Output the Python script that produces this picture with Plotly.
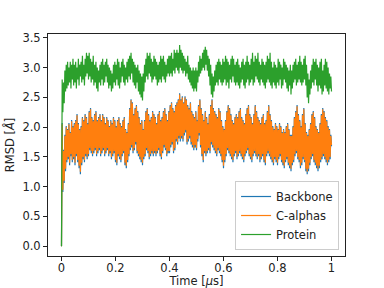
import numpy as np
import plotly.graph_objects as go

step_us = 0.0025

protein = [
    0.00, 2.80, 2.25, 2.75, 2.40, 2.95, 2.60, 3.05, 2.65, 3.10, 2.70, 3.00, 2.75, 3.10, 2.65, 3.05, 2.80, 3.15, 2.70, 3.05,
    2.75, 3.10, 2.65, 3.00, 2.80, 3.15, 2.70, 3.05, 2.85, 3.10, 2.75, 3.20, 2.80, 3.05, 2.70, 3.15, 2.85, 3.25, 2.90, 3.20,
    2.80, 3.25, 2.85, 3.15, 2.75, 3.10, 2.80, 3.20, 2.70, 3.05, 2.75, 3.10, 2.65, 3.00, 2.60, 2.95, 2.75, 3.05, 2.70, 3.10,
    2.80, 3.15, 2.70, 3.05, 2.75, 3.10, 2.85, 3.15, 2.75, 3.05, 2.65, 3.00, 2.70, 2.95, 2.60, 2.90, 2.65, 3.05, 2.75, 3.10,
    2.70, 3.05, 2.80, 3.15, 2.70, 3.10, 2.65, 3.00, 2.75, 3.10, 2.85, 3.15, 2.75, 3.05, 2.70, 3.00, 2.80, 3.10, 2.75, 3.15,
    2.85, 3.20, 2.80, 3.25, 2.90, 3.15, 2.75, 3.10, 2.70, 3.05, 2.65, 3.00, 2.75, 3.05, 2.60, 2.95, 2.55, 2.90, 2.50, 2.85,
    2.45, 2.90, 2.60, 3.05, 2.75, 3.15, 2.85, 3.25, 2.80, 3.20, 2.90, 3.25, 2.85, 3.15, 2.75, 3.10, 2.80, 3.20, 2.85, 3.15,
    2.80, 3.10, 2.70, 3.05, 2.75, 3.10, 2.80, 3.20, 2.75, 3.15, 2.85, 3.20, 2.80, 3.10, 2.75, 3.05, 2.85, 3.15, 2.90, 3.20,
    2.85, 3.20, 2.90, 3.25, 2.85, 3.15, 2.95, 3.30, 2.90, 3.25, 3.00, 3.30, 2.95, 3.25, 2.90, 3.38, 3.00, 3.30, 2.95, 3.25,
    2.90, 3.20, 2.95, 3.15, 2.85, 3.10, 2.90, 3.20, 2.80, 3.05, 2.75, 3.00, 2.70, 2.95, 2.65, 3.00, 2.60, 2.95, 2.65, 3.00,
    2.60, 2.95, 2.75, 3.10, 2.85, 3.20, 2.90, 3.15, 2.95, 3.25, 3.00, 3.30, 2.95, 3.35, 3.05, 3.30, 2.95, 3.20, 2.85, 3.15,
    2.70, 3.05, 2.55, 2.90, 2.50, 2.85, 2.60, 2.95, 2.70, 3.05, 2.75, 3.10, 2.70, 3.15, 2.80, 3.10, 2.75, 3.05, 2.70, 3.15,
    2.75, 3.10, 2.80, 3.20, 2.70, 3.15, 2.75, 3.10, 2.65, 3.05, 2.80, 3.15, 2.75, 3.20, 2.85, 3.15, 2.75, 3.05, 2.70, 3.10,
    2.75, 3.15, 2.70, 3.05, 2.65, 3.00, 2.75, 3.10, 2.80, 3.15, 2.70, 3.05, 2.65, 3.10, 2.75, 3.20, 2.80, 3.10, 2.70, 3.05,
    2.75, 3.15, 2.80, 3.25, 2.70, 3.10, 2.75, 3.20, 2.85, 3.15, 2.80, 3.25, 2.75, 3.10, 2.70, 3.05, 2.80, 3.15, 2.75, 3.10,
    2.70, 3.05, 2.65, 3.10, 2.75, 3.20, 2.80, 3.15, 2.75, 3.25, 2.70, 3.10, 2.65, 3.00, 2.75, 3.10, 2.70, 3.05, 2.65, 3.00,
    2.75, 3.15, 2.70, 3.10, 2.80, 3.05, 2.65, 3.00, 2.70, 3.15, 2.80, 3.10, 2.75, 3.05, 2.65, 3.00, 2.60, 2.95, 2.70, 3.05,
    2.55, 2.95, 2.65, 3.05, 2.75, 3.10, 2.80, 3.15, 2.70, 3.05, 2.75, 3.10, 2.80, 3.20, 2.75, 3.10, 2.70, 3.05, 2.75, 3.15,
    2.80, 3.20, 2.70, 3.05, 2.50, 2.90, 2.40, 2.80, 2.55, 2.95, 2.65, 3.05, 2.75, 3.15, 2.70, 3.10, 2.80, 3.15, 2.70, 3.05,
    2.60, 3.00, 2.70, 3.10, 2.65, 3.15, 2.55, 2.95, 2.60, 3.05, 2.70, 3.15, 2.65, 3.10, 2.60, 3.00, 2.55, 2.90, 2.65, 2.85,
    2.60,
]

c_alphas = [
    0.00, 2.05, 0.95, 1.60, 1.10, 1.85, 1.30, 2.00, 1.45, 1.95, 1.50, 2.05, 1.40, 1.90, 1.55, 2.10, 1.45, 2.00, 1.50, 2.05,
    1.40, 2.10, 1.55, 2.20, 1.45, 2.05, 1.35, 1.95, 1.25, 2.00, 1.40, 2.15, 1.50, 2.10, 1.45, 2.20, 1.55, 2.15, 1.50, 2.05,
    1.55, 2.25, 1.65, 2.30, 1.60, 2.15, 1.55, 2.10, 1.60, 2.20, 1.65, 2.25, 1.55, 2.10, 1.60, 2.15, 1.65, 2.20, 1.55, 2.10,
    1.60, 2.20, 1.65, 2.15, 1.55, 2.05, 1.60, 2.15, 1.65, 2.10, 1.55, 2.00, 1.60, 2.10, 1.50, 2.05, 1.55, 2.15, 1.60, 2.10,
    1.45, 2.00, 1.40, 2.10, 1.55, 2.15, 1.50, 2.05, 1.45, 2.00, 1.55, 2.10, 1.60, 2.15, 1.40, 1.95, 1.35, 1.90, 1.45, 2.05,
    1.55, 2.30, 1.65, 2.45, 1.70, 2.40, 1.60, 2.20, 1.65, 2.30, 1.75, 2.35, 1.60, 2.25, 1.55, 2.15, 1.50, 2.05, 1.45, 2.10,
    1.40, 1.95, 1.50, 2.10, 1.55, 2.25, 1.65, 2.30, 1.60, 2.20, 1.50, 2.10, 1.55, 2.15, 1.60, 2.25, 1.55, 2.20, 1.60, 2.15,
    1.55, 2.05, 1.60, 2.20, 1.65, 2.25, 1.55, 2.10, 1.50, 2.15, 1.60, 2.25, 1.70, 2.30, 1.65, 2.20, 1.55, 2.10, 1.60, 2.25,
    1.60, 2.35, 1.70, 2.40, 1.75, 2.30, 1.60, 2.25, 1.65, 2.35, 1.80, 2.40, 1.75, 2.45, 1.85, 2.55, 1.80, 2.45, 1.85, 2.50,
    1.80, 2.40, 1.90, 2.50, 1.95, 2.45, 1.75, 2.35, 1.80, 2.30, 1.85, 2.40, 1.75, 2.25, 1.70, 2.20, 1.65, 2.15, 1.70, 2.25,
    1.65, 2.10, 1.80, 2.35, 1.90, 2.45, 1.70, 2.30, 1.55, 2.20, 1.45, 2.10, 1.60, 2.25, 1.55, 2.15, 1.60, 2.05, 1.65, 2.20,
    1.60, 2.35, 1.75, 2.45, 1.70, 2.30, 1.65, 2.25, 1.60, 2.20, 1.55, 2.15, 1.65, 2.30, 1.60, 2.25, 1.55, 2.10, 1.45, 2.00,
    1.35, 1.95, 1.45, 2.10, 1.55, 2.25, 1.65, 2.35, 1.60, 2.30, 1.55, 2.20, 1.50, 2.10, 1.45, 2.05, 1.55, 2.15, 1.60, 2.20,
    1.50, 2.15, 1.55, 2.25, 1.60, 2.30, 1.55, 2.15, 1.50, 2.10, 1.45, 2.05, 1.55, 2.20, 1.60, 2.30, 1.65, 2.35, 1.55, 2.20,
    1.50, 2.15, 1.45, 2.05, 1.55, 2.20, 1.60, 2.35, 1.55, 2.25, 1.50, 2.15, 1.55, 2.10, 1.45, 2.05, 1.50, 2.15, 1.55, 2.20,
    1.45, 2.05, 1.40, 2.10, 1.55, 2.25, 1.60, 2.35, 1.55, 2.20, 1.50, 2.10, 1.45, 2.00, 1.40, 1.95, 1.50, 2.05, 1.45, 2.00,
    1.40, 1.95, 1.50, 2.05, 1.55, 2.00, 1.45, 1.90, 1.40, 1.95, 1.35, 1.90, 1.45, 2.00, 1.50, 2.05, 1.40, 1.95, 1.35, 1.85,
    1.30, 1.85, 1.40, 2.00, 1.45, 2.15, 1.55, 2.25, 1.60, 2.35, 1.50, 2.20, 1.45, 2.10, 1.35, 2.00, 1.40, 2.20, 1.50, 2.30,
    1.45, 2.05, 1.30, 1.90, 1.25, 1.85, 1.30, 1.95, 1.40, 2.05, 1.50, 2.20, 1.55, 2.25, 1.45, 2.15, 1.40, 2.00, 1.35, 1.95,
    1.30, 1.90, 1.35, 2.05, 1.45, 2.20, 1.50, 2.30, 1.55, 2.25, 1.50, 2.15, 1.45, 2.10, 1.40, 2.00, 1.45, 1.95, 1.50, 1.85,
    1.70,
]

backbone = [
    0.00, 2.07, 0.91, 1.62, 1.06, 1.87, 1.26, 2.02, 1.41, 1.97, 1.46, 2.07, 1.36, 1.92, 1.51, 2.12, 1.41, 2.02, 1.46, 2.07,
    1.36, 2.12, 1.51, 2.22, 1.41, 2.07, 1.31, 1.97, 1.21, 2.02, 1.36, 2.17, 1.46, 2.12, 1.41, 2.22, 1.51, 2.17, 1.46, 2.07,
    1.51, 2.27, 1.61, 2.32, 1.56, 2.17, 1.51, 2.12, 1.56, 2.22, 1.61, 2.27, 1.51, 2.12, 1.56, 2.17, 1.61, 2.22, 1.51, 2.12,
    1.56, 2.22, 1.61, 2.17, 1.51, 2.07, 1.56, 2.17, 1.61, 2.12, 1.51, 2.02, 1.56, 2.12, 1.46, 2.07, 1.51, 2.17, 1.56, 2.12,
    1.41, 2.02, 1.36, 2.12, 1.51, 2.17, 1.46, 2.07, 1.41, 2.02, 1.51, 2.12, 1.56, 2.17, 1.36, 1.97, 1.31, 1.92, 1.41, 2.07,
    1.51, 2.32, 1.61, 2.47, 1.66, 2.42, 1.56, 2.22, 1.61, 2.32, 1.71, 2.37, 1.56, 2.27, 1.51, 2.17, 1.46, 2.07, 1.41, 2.12,
    1.36, 1.97, 1.46, 2.12, 1.51, 2.27, 1.61, 2.32, 1.56, 2.22, 1.46, 2.12, 1.51, 2.17, 1.56, 2.27, 1.51, 2.22, 1.56, 2.17,
    1.51, 2.07, 1.56, 2.22, 1.61, 2.27, 1.51, 2.12, 1.46, 2.17, 1.56, 2.27, 1.66, 2.32, 1.61, 2.22, 1.51, 2.12, 1.56, 2.27,
    1.56, 2.37, 1.66, 2.42, 1.71, 2.32, 1.56, 2.27, 1.61, 2.37, 1.76, 2.42, 1.71, 2.47, 1.81, 2.57, 1.76, 2.47, 1.81, 2.52,
    1.76, 2.42, 1.86, 2.52, 1.91, 2.47, 1.71, 2.37, 1.76, 2.32, 1.81, 2.42, 1.71, 2.27, 1.66, 2.22, 1.61, 2.17, 1.66, 2.27,
    1.61, 2.12, 1.76, 2.37, 1.86, 2.47, 1.66, 2.32, 1.51, 2.22, 1.41, 2.12, 1.56, 2.27, 1.51, 2.17, 1.56, 2.07, 1.61, 2.22,
    1.56, 2.37, 1.71, 2.47, 1.66, 2.32, 1.61, 2.27, 1.56, 2.22, 1.51, 2.17, 1.61, 2.32, 1.56, 2.27, 1.51, 2.12, 1.41, 2.02,
    1.31, 1.97, 1.41, 2.12, 1.51, 2.27, 1.61, 2.37, 1.56, 2.32, 1.51, 2.22, 1.46, 2.12, 1.41, 2.07, 1.51, 2.17, 1.56, 2.22,
    1.46, 2.17, 1.51, 2.27, 1.56, 2.32, 1.51, 2.17, 1.46, 2.12, 1.41, 2.07, 1.51, 2.22, 1.56, 2.32, 1.61, 2.37, 1.51, 2.22,
    1.46, 2.17, 1.41, 2.07, 1.51, 2.22, 1.56, 2.37, 1.51, 2.27, 1.46, 2.17, 1.51, 2.12, 1.41, 2.07, 1.46, 2.17, 1.51, 2.22,
    1.41, 2.07, 1.36, 2.12, 1.51, 2.27, 1.56, 2.37, 1.51, 2.22, 1.46, 2.12, 1.41, 2.02, 1.36, 1.97, 1.46, 2.07, 1.41, 2.02,
    1.36, 1.97, 1.46, 2.07, 1.51, 2.02, 1.41, 1.92, 1.36, 1.97, 1.31, 1.92, 1.41, 2.02, 1.46, 2.07, 1.36, 1.97, 1.31, 1.87,
    1.26, 1.87, 1.36, 2.02, 1.41, 2.17, 1.51, 2.27, 1.56, 2.37, 1.46, 2.22, 1.41, 2.12, 1.31, 2.02, 1.36, 2.22, 1.46, 2.32,
    1.41, 2.07, 1.26, 1.92, 1.21, 1.87, 1.26, 1.97, 1.36, 2.07, 1.46, 2.22, 1.51, 2.27, 1.41, 2.17, 1.36, 2.02, 1.31, 1.97,
    1.26, 1.92, 1.31, 2.07, 1.41, 2.22, 1.46, 2.32, 1.51, 2.27, 1.46, 2.17, 1.41, 2.12, 1.36, 2.02, 1.41, 1.97, 1.46, 1.87,
    1.68,
]

series_names = ["Backbone", "C-alphas", "Protein"]
series_colors = ["#1f77b4", "#ff7f0e", "#2ca02c"]
x_tick_vals = [0, 0.2, 0.4, 0.6, 0.8, 1]
x_tick_text = ["0", "0.2", "0.4", "0.6", "0.8", "1"]
y_tick_vals = [0.0, 0.5, 1.0, 1.5, 2.0, 2.5, 3.0, 3.5]

time = np.arange(len(protein)) * step_us

fig = go.Figure()
for name, col, vals in zip(series_names, series_colors, [backbone, c_alphas, protein]):
    fig.add_trace(go.Scatter(x=time, y=vals, mode="lines", name=name,
                             line=dict(color=col, width=1.2)))

font = dict(family="DejaVu Sans", size=11.5, color="#222")
axis_common = dict(showline=True, mirror=True, linecolor="#222", linewidth=1,
                   ticks="outside", ticklen=4, tickcolor="#222", showgrid=False,
                   zeroline=False, tickfont=font, automargin=False)

fig.update_layout(
    width=384, height=288,
    margin=dict(l=48, r=39, t=34, b=32),
    paper_bgcolor="white", plot_bgcolor="white",
    font=font,
    showlegend=True,
    legend=dict(x=0.98, y=0.027, xanchor="right", yanchor="bottom",
                bordercolor="#cccccc", borderwidth=1, bgcolor="rgba(255,255,255,0.8)",
                font=dict(family="DejaVu Sans", size=11.5, color="#222"),
                tracegroupgap=0),
    xaxis=dict(range=[-0.05, 1.05], tickvals=x_tick_vals, ticktext=x_tick_text,
               ticklabelstandoff=-3,
               title=dict(text="Time [<i>μ</i>s]", font=font, standoff=8), **axis_common),
    yaxis=dict(range=[-0.165, 3.565], tickvals=y_tick_vals, tickformat=".1f",
               title=dict(text="RMSD [<i>Å</i>]", font=font, standoff=5), **axis_common),
)

fig.write_html("out.html", config={"displayModeBar": False},
               post_script="document.body.style.margin='0';")
